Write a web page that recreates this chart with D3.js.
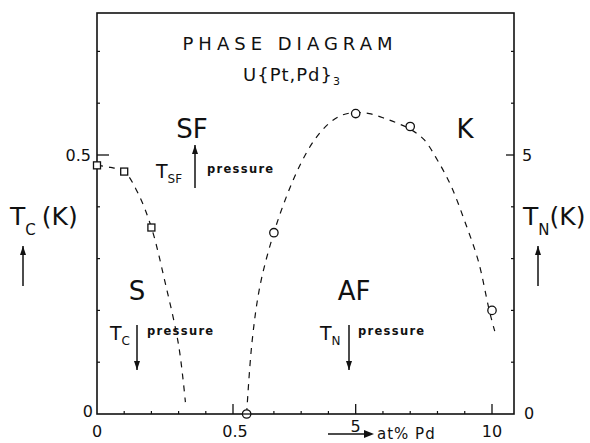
<!DOCTYPE html>
<html><head><meta charset="utf-8">
<script src="https://cdn.jsdelivr.net/npm/d3@7/dist/d3.min.js"></script>
<style>
body{margin:0;background:#fff;}
svg{display:block;}
text{font-family:"DejaVu Sans",sans-serif;fill:#111;}
</style></head>
<body>
<script>
// ---- data ----
const xBreaks = [0, 0.5, 10];           // broken at% Pd axis
const xMinorTicks = [0.1,0.2,0.3,0.4,1,2,3,4,6,7,8,9];
const xMajorTicks = [0.5,5,10];
const xTickLabels = ["0","0.5","10"];
const xTickLabelVals = [0,0.5,10];
const tcMinorTicks = [0.1,0.2,0.3,0.4,0.6,0.7];
const tnMinorTicks = [1,2,3,4,6,7];

// superconducting Tc (K) vs at% Pd (squares)
const scX = [0, 0.1, 0.2];
const scTc = [0.48, 0.468, 0.36];
// dashed Tc guide line
const tcLineX = [0, 0.05, 0.1, 0.15, 0.2, 0.25, 0.3, 0.325];
const tcLineY = [0.48, 0.476, 0.468, 0.427, 0.36, 0.255, 0.133, 0.023];

// antiferromagnetic TN (K) vs at% Pd (circles)
const afX = [1, 2, 5, 7, 10];
const afTn = [0, 3.5, 5.8, 5.55, 2.0];
// dashed TN guide line
const tnLineX = [1.0, 1.2, 1.5, 2.0, 2.5, 3.0, 3.5, 4.0, 4.5, 5.0, 5.5, 6.0, 6.5, 7.0, 7.5, 8.0, 8.5, 9.0, 9.5, 9.9, 10.1];
const tnLineY = [0, 1.4, 2.5, 3.5, 4.25, 4.85, 5.3, 5.6, 5.77, 5.82, 5.8, 5.72, 5.62, 5.5, 5.3, 4.9, 4.4, 3.72, 2.95, 2.0, 1.6];

const W = 590, H = 443;
const L = 97, R = 514, T = 13, B = 414;

const x = d3.scaleLinear().domain(xBreaks).range([L, 233, 492]);
const yTc = d3.scaleLinear().domain([0, 0.5]).range([B, 155]);
const yTn = d3.scaleLinear().domain([0, 5]).range([B, 155]);

const svg = d3.select("body").append("svg").attr("width", W).attr("height", H);

// frame
svg.append("rect").attr("x", L).attr("y", T).attr("width", R - L).attr("height", B - T)
  .attr("fill", "none").attr("stroke", "#111").attr("stroke-width", 1.6);

// x ticks (upward, inside)
const gx = svg.append("g");
gx.selectAll("line.minor").data(xMinorTicks).join("line")
  .attr("x1", d => x(d)).attr("x2", d => x(d)).attr("y1", B).attr("y2", B - 3)
  .attr("stroke", "#111").attr("stroke-width", 1.2);
gx.selectAll("line.major").data(xMajorTicks).join("line")
  .attr("x1", d => x(d)).attr("x2", d => x(d)).attr("y1", B).attr("y2", B - 10)
  .attr("stroke", "#111").attr("stroke-width", 1.3);
gx.selectAll("text").data(xTickLabelVals).join("text")
  .attr("x", d => x(d) + (d === 0.5 ? 2 : 0)).attr("y", 437)
  .attr("text-anchor", "middle").attr("font-size", 16)
  .text((d, i) => xTickLabels[i]);

// left axis ticks
const gl = svg.append("g");
gl.selectAll("line").data(tcMinorTicks).join("line")
  .attr("x1", L).attr("x2", L + 3).attr("y1", d => yTc(d)).attr("y2", d => yTc(d))
  .attr("stroke", "#111").attr("stroke-width", 1.2);
gl.append("line").attr("x1", L).attr("x2", L + 12).attr("y1", yTc(0.5)).attr("y2", yTc(0.5))
  .attr("stroke", "#111").attr("stroke-width", 1.3);
gl.append("text").attr("x", L - 6).attr("y", yTc(0.5) + 6).attr("text-anchor", "end")
  .attr("font-size", 16).text("0.5");
gl.append("text").attr("x", L - 4).attr("y", yTc(0) + 3).attr("text-anchor", "end")
  .attr("font-size", 16).text("0");

// right axis ticks
const gr = svg.append("g");
gr.selectAll("line").data(tnMinorTicks).join("line")
  .attr("x1", R).attr("x2", R - 3).attr("y1", d => yTn(d)).attr("y2", d => yTn(d))
  .attr("stroke", "#111").attr("stroke-width", 1.2);
gr.append("line").attr("x1", R).attr("x2", R - 8).attr("y1", yTn(5)).attr("y2", yTn(5))
  .attr("stroke", "#111").attr("stroke-width", 1.3);
gr.append("text").attr("x", R + 8).attr("y", yTn(5) + 6).attr("font-size", 16).text("5");
gr.append("text").attr("x", R + 10).attr("y", yTn(0) + 5).attr("font-size", 16).text("0");

// dashed guide lines
const tcLine = d3.line().x(d => x(d[0])).y(d => yTc(d[1])).curve(d3.curveCatmullRom);
svg.append("path").datum(tcLineX.map((v, i) => [v, tcLineY[i]]))
  .attr("d", tcLine).attr("fill", "none").attr("stroke", "#111")
  .attr("stroke-width", 1.2).attr("stroke-dasharray", "6,6");
const tnLine = d3.line().x(d => x(d[0])).y(d => yTn(d[1])).curve(d3.curveCatmullRom);
svg.append("path").datum(tnLineX.map((v, i) => [v, tnLineY[i]]))
  .attr("d", tnLine).attr("fill", "none").attr("stroke", "#111")
  .attr("stroke-width", 1.2).attr("stroke-dasharray", "6,6");

// markers
svg.selectAll("rect.sq").data(scX).join("rect").attr("class", "sq")
  .attr("x", d => x(d) - 3.5).attr("y", (d, i) => yTc(scTc[i]) - 3.5)
  .attr("width", 7).attr("height", 7).attr("fill", "#fff").attr("stroke", "#111").attr("stroke-width", 1.3);
svg.selectAll("circle.af").data(afX).join("circle").attr("class", "af")
  .attr("cx", d => x(d)).attr("cy", (d, i) => yTn(afTn[i])).attr("r", 4.2)
  .attr("fill", "#fff").attr("stroke", "#111").attr("stroke-width", 1.3);
// cross through circle on axis
svg.append("line").attr("x1", x(afX[0]) - 4).attr("x2", x(afX[0]) + 4)
  .attr("y1", yTn(0)).attr("y2", yTn(0)).attr("stroke", "#111").attr("stroke-width", 1.3);

// arrow helper
function arrow(x0, y0, y1) {
  const dir = y1 < y0 ? -1 : 1;
  svg.append("line").attr("x1", x0).attr("x2", x0).attr("y1", y0).attr("y2", y1)
    .attr("stroke", "#111").attr("stroke-width", 1.5);
  svg.append("path")
    .attr("d", `M${x0},${y1} L${x0 - 3},${y1 - dir * 9} L${x0 + 3},${y1 - dir * 9} Z`)
    .attr("fill", "#111");
}

// titles
svg.append("text").attr("x", 290).attr("y", 50).attr("text-anchor", "middle")
  .attr("font-size", 18).attr("letter-spacing", 5).text("PHASE DIAGRAM");
const t2 = svg.append("text").attr("x", 292).attr("y", 81).attr("text-anchor", "middle")
  .attr("font-size", 18).attr("letter-spacing", 1);
t2.append("tspan").text("U{Pt,Pd}");
t2.append("tspan").attr("font-size", 11).attr("dy", 4).text("3");

// phase labels
svg.append("text").attr("x", 192).attr("y", 138).attr("text-anchor", "middle").attr("font-size", 26).text("SF");
svg.append("text").attr("x", 465).attr("y", 138).attr("text-anchor", "middle").attr("font-size", 26).text("K");
svg.append("text").attr("x", 137).attr("y", 300).attr("text-anchor", "middle").attr("font-size", 26).text("S");
svg.append("text").attr("x", 354).attr("y", 300).attr("text-anchor", "middle").attr("font-size", 26).text("AF");

// pressure notes
function note(tx, ty, sub, ax, up, px) {
  const t = svg.append("text").attr("x", tx).attr("y", ty).attr("font-size", 19);
  t.append("tspan").text("T");
  t.append("tspan").attr("font-size", 12).attr("dy", 5).text(sub);
  if (up) arrow(ax, ty + 10, ty - 33); else arrow(ax, ty - 15, ty + 30);
  svg.append("text").attr("x", px).attr("y", ty - 5).attr("font-size", 11.5)
    .attr("font-weight", "bold").attr("letter-spacing", 1.3).text("pressure");
}
note(156, 178, "SF", 195, true, 207);
note(110, 340, "C", 137, false, 147);
note(320, 340, "N", 349, false, 358);

// axis titles
const lt = svg.append("text").attr("x", 10).attr("y", 225).attr("font-size", 25);
lt.append("tspan").text("T");
lt.append("tspan").attr("font-size", 15).attr("dy", 10).text("C");
lt.append("tspan").attr("dy", -10).attr("dx", 6).text("(K)");
arrow(23, 286, 246);

const rt = svg.append("text").attr("x", 523).attr("y", 225).attr("font-size", 25);
rt.append("tspan").text("T");
rt.append("tspan").attr("font-size", 15).attr("dy", 10).text("N");
rt.append("tspan").attr("dy", -10).text("(K)");
arrow(538, 286, 246);

// x axis title with arrow
svg.append("line").attr("x1", 328).attr("x2", 366).attr("y1", 434).attr("y2", 434)
  .attr("stroke", "#111").attr("stroke-width", 1.4);
svg.append("path").attr("d", "M374,434 L364,430 L364,438 Z").attr("fill", "#111");
svg.append("text").attr("x", x(5)).attr("y", 432).attr("text-anchor", "middle").attr("font-size", 16).text("5");
svg.append("text").attr("x", 377).attr("y", 439).attr("font-size", 15).attr("letter-spacing", 1).text("at% Pd");
</script>
</body></html>
